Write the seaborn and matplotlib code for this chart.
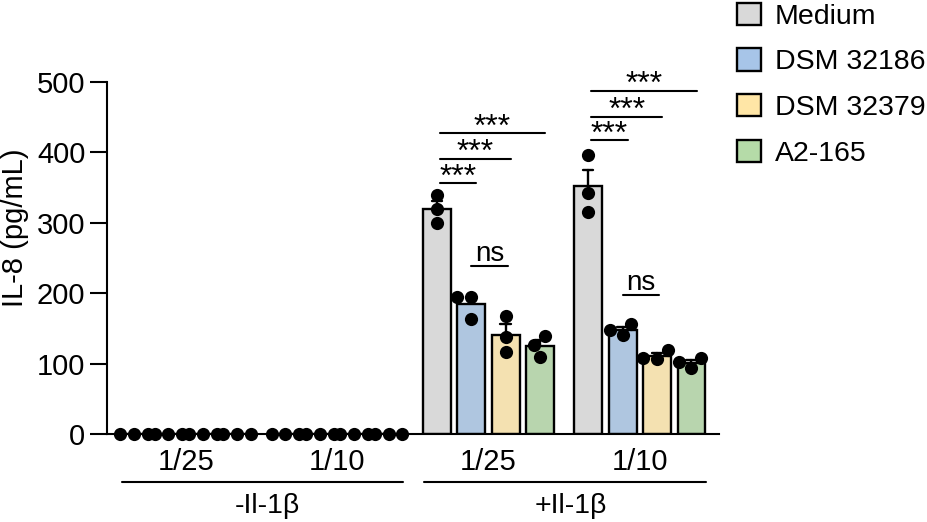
import pandas as pd
import matplotlib
matplotlib.use("Agg")
import matplotlib.pyplot as plt
import matplotlib.transforms as mtransforms
from matplotlib.patches import Patch
import seaborn as sns

# categories
strains = ["Medium", "DSM 32186", "DSM 32379", "A2-165"]
doses = ["1/25", "1/10", "1/25", "1/10"]
stim_labels = ["-Il-1\u03b2", "+Il-1\u03b2"]
stim_of_dose = [0, 0, 1, 1]

# IL-8 replicates (pg/mL), three per dose column
medium = [[0, 0, 0], [0, 0, 0], [339, 319, 300], [396, 343, 316]]
dsm_32186 = [[0, 0, 0], [0, 0, 0], [195, 195, 164], [141, 156, 148]]
dsm_32379 = [[0, 0, 0], [0, 0, 0], [168, 138, 117], [108, 119, 107]]
a2_165 = [[0, 0, 0], [0, 0, 0], [139, 127, 110], [94, 108, 102]]
values_by_strain = [medium, dsm_32186, dsm_32379, a2_165]

# significance marks: dose column, strain a, strain b, bracket level, label
sig_cols = [2, 2, 2, 2, 3, 3, 3, 3]
sig_a = [0, 0, 0, 1, 0, 0, 0, 1]
sig_b = [1, 2, 3, 2, 1, 2, 3, 2]
sig_level = [356, 391, 427, 239, 417, 451, 487, 198]
sig_text = ["***", "***", "***", "ns", "***", "***", "***", "ns"]

colors = ["#D9D9D9", "#A7C5E8", "#FFE6A6", "#B5DBA8"]

GROUP_STEP = 4.4  # distance between dose columns, in bar widths

rows = []
for s, strain in enumerate(strains):
    for d, reps in enumerate(values_by_strain[s]):
        for v in reps:
            rows.append({"pos": d * GROUP_STEP + s, "strain": strain, "il8": v})
df = pd.DataFrame(rows)

sns.set_theme(style="ticks")
plt.rcParams["font.family"] = ["Liberation Sans", "DejaVu Sans"]
plt.rcParams.update({"text.color": "black", "axes.labelcolor": "black",
                     "xtick.color": "black", "ytick.color": "black"})

fig = plt.figure(figsize=(9.28, 5.22), dpi=100)
ax = fig.add_axes([0.1153, 0.1686, 0.6595, 0.6743])

sns.barplot(data=df, x="pos", y="il8", hue="strain", hue_order=strains,
            palette=colors, native_scale=True, width=0.81, errorbar="se",
            capsize=0.3, edgecolor="black", linewidth=1.7, legend=False,
            err_kws={"color": "black", "linewidth": 1.7, "zorder": 0.5}, ax=ax)
sns.swarmplot(data=df, x="pos", y="il8", native_scale=True, color="black",
              size=9.5, clip_on=False, zorder=4, warn_thresh=1, ax=ax)

ax.set_xlim(-0.785, 17.0)
ax.set_ylim(0, 500)
ax.set_yticks([0, 100, 200, 300, 400, 500])
ax.set_xticks([d * GROUP_STEP + 1.5 for d in range(len(doses))])
ax.set_xticklabels(doses)
ax.tick_params(axis="x", length=0, pad=10, labelsize=21)
ax.tick_params(axis="y", length=12, width=1.5, pad=3.5, labelsize=21)
sns.despine(ax=ax)
for sp in ["left", "bottom"]:
    ax.spines[sp].set_linewidth(1.5)
    ax.spines[sp].set_color("black")
ax.set_xlabel("")
ax.set_ylabel("IL-8 (pg/mL)", fontsize=21)
ax.yaxis.set_label_coords(-0.127, 0.585)

# significance brackets
for col, a, b, lvl, txt in zip(sig_cols, sig_a, sig_b, sig_level, sig_text):
    xa = col * GROUP_STEP + a
    xb = col * GROUP_STEP + b
    if txt == "ns":
        x0, x1 = xa, xb + 0.07
        ax.plot([x0, x1], [lvl, lvl], color="black", lw=1.5, clip_on=False)
        ax.text((x0 + x1) / 2, lvl + 7, txt, ha="center", va="baseline",
                fontsize=20)
    else:
        x0, x1 = xa + 0.08, xb + 0.15
        ax.plot([x0, x1], [lvl, lvl], color="black", lw=1.5, clip_on=False)
        ax.text((x0 + x1) / 2, lvl - 3, txt, ha="center", va="baseline",
                fontsize=23)

# stimulation brackets under the dose labels
trans = mtransforms.blended_transform_factory(ax.transData, ax.transAxes)
for k, lab in enumerate(stim_labels):
    cols = [d for d in range(len(doses)) if stim_of_dose[d] == k]
    x0 = cols[0] * GROUP_STEP - 0.36
    x1 = cols[-1] * GROUP_STEP + len(strains) - 1 + 0.42
    ax.plot([x0, x1], [-0.136, -0.136], color="black", lw=1.5,
            transform=trans, clip_on=False)
    ax.text((x0 + x1) / 2 + 0.15, -0.224, lab, ha="center", va="baseline",
            fontsize=20.5, transform=trans)

handles = [Patch(facecolor=c, edgecolor="black", linewidth=1.7) for c in colors]
fig.legend(handles, strains, loc="upper left", bbox_to_anchor=(0.794, 0.995),
           frameon=False, fontsize=20.5, handlelength=0.84, handleheight=0.82,
           handletextpad=0.5, labelspacing=0.66, borderpad=0, borderaxespad=0)

fig.savefig("out.png", dpi=100)
